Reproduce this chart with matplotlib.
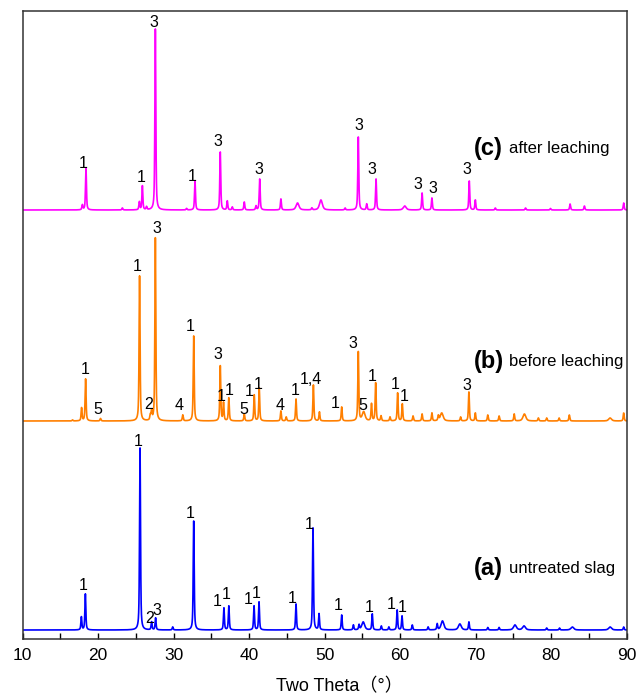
import numpy as np
import matplotlib
matplotlib.use('Agg')
import matplotlib.pyplot as plt
from matplotlib.ticker import MultipleLocator

plt.rcParams['font.family'] = ['Liberation Sans', 'Noto Sans CJK SC', 'DejaVu Sans']

# ---------------- data (2-theta in degrees, intensity in arbitrary units) ----------------
# (a) untreated slag
a_pos = [17.77, 18.3, 25.54, 27.07, 27.6, 29.87, 32.65, 36.65, 37.3, 40.64, 41.3, 46.2,
         48.45, 49.25, 52.25, 53.8, 54.55, 55.1, 56.3, 57.5, 58.5, 59.6, 60.24, 61.6,
         63.7, 64.9, 65.6, 67.9, 69.1, 71.6, 73.1, 75.2, 76.4, 79.4, 81.1, 82.8, 87.8, 89.6]
a_int = [13, 36, 182, 8, 12, 3, 109, 22, 24, 24, 28, 26,
         102, 16, 15, 5, 5, 8, 16, 4, 3, 20, 14, 5,
         3, 6, 9, 6, 8, 2.5, 2.5, 5, 4, 2, 2, 3, 3, 3]
a_broad = [55.1, 65.6, 67.9, 75.2, 76.4, 82.8, 87.8]
a_lab_x = [18.0, 25.3, 26.8, 27.8, 32.15, 35.8, 36.9, 39.8, 40.9, 45.7, 47.9, 51.8, 55.9, 58.8, 60.3]
a_lab_h = [45.7, 190, 13.3, 20.7, 117.7, 30, 36.7, 31.7, 37.7, 33.3, 106.7, 26, 24, 27.3, 24]
a_lab_t = ['1', '1', '2', '3', '1', '1', '1', '1', '1', '1', '1', '1', '1', '1', '1']

# (b) before leaching
b_pos = [16.6, 17.8, 18.33, 20.3, 25.48, 26.9, 27.07, 27.57, 31.2, 32.65, 36.17, 36.6,
         37.3, 39.35, 40.67, 41.33, 44.2, 44.9, 46.2, 48.5, 49.3, 52.25, 54.45, 55.16,
         56.2, 56.75, 57.46, 58.65, 59.66, 60.28, 61.7, 62.9, 64.2, 65.05, 65.5, 68.0,
         69.1, 69.95, 71.6, 73.1, 75.1, 76.45, 78.3, 79.4, 81.05, 82.4, 87.8, 89.6]
b_int = [1, 13, 42, 2.5, 145, 5, 9, 183, 6, 85, 55, 18,
         23, 7, 26, 33, 10, 4, 22, 36, 9, 14, 69, 9,
         17, 38, 5, 4, 28, 17, 5, 7, 8, 5, 8, 4,
         29, 8, 6, 5, 7, 7, 3, 3, 3, 6, 3, 8]
b_broad = [55.16, 65.5, 76.45, 87.8]
b_lab_x = [18.3, 19.9, 25.1, 26.7, 27.8, 30.7, 32.15, 35.8, 36.35, 37.35, 39.35, 39.97,
           41.25, 44.13, 46.1, 48.2, 51.4, 53.8, 55.1, 56.3, 59.4, 60.5, 68.85]
b_lab_h = [52.7, 13.3, 156, 17.7, 193.7, 16.7, 96, 67.7, 26, 32, 12.7, 31,
           37.7, 17, 31.7, 42.7, 18.7, 78.7, 16.7, 46, 37.7, 26, 36.7]
b_lab_t = ['1', '5', '1', '2', '3', '4', '1', '3', '1', '1', '5', '1',
           '1', '4', '1', '1,4', '1', '3', '5', '1', '1', '1', '3']

# (c) after leaching
c_pos = [17.9, 18.38, 23.2, 25.45, 25.85, 26.4, 27.57, 31.7, 32.82, 36.17, 37.1, 37.76,
         39.35, 40.9, 41.39, 44.2, 46.4, 48.3, 49.5, 52.7, 54.45, 55.56, 56.8, 60.6,
         62.9, 64.2, 69.15, 69.95, 72.6, 76.6, 79.9, 82.5, 84.4, 89.6]
c_int = [5, 42, 2, 8, 24, 3, 181, 1.5, 29, 58, 9, 3,
         8, 4, 31, 11, 7, 2, 10, 2, 73, 6, 31, 4,
         17, 12, 29, 10, 2, 2, 1.5, 6, 4, 7]
c_broad = [46.4, 49.5, 60.6]
c_lab_x = [17.95, 25.67, 27.4, 32.5, 35.8, 41.25, 54.55, 56.3, 62.3, 64.3, 68.8]
c_lab_h = [48.3, 34.3, 189.3, 35, 70, 41.7, 86, 42.3, 27.3, 22.7, 41.7]
c_lab_t = ['1', '1', '3', '1', '3', '3', '3', '3', '3', '3', '3']

x_ticks = [10, 20, 30, 40, 50, 60, 70, 80, 90]
x_label = 'Two Theta（°）'

series = [
    dict(pos=a_pos, inten=a_int, broad=a_broad, lx=a_lab_x, lh=a_lab_h, lt=a_lab_t,
         offset=9, color='#0000FF', tag='(a)', name='untreated slag', tag_y=61),
    dict(pos=b_pos, inten=b_int, broad=b_broad, lx=b_lab_x, lh=b_lab_h, lt=b_lab_t,
         offset=218, color='#FF7F00', tag='(b)', name='before leaching', tag_y=59.3),
    dict(pos=c_pos, inten=c_int, broad=c_broad, lx=c_lab_x, lh=c_lab_h, lt=c_lab_t,
         offset=429, color='#FF00FF', tag='(c)', name='after leaching', tag_y=61.7),
]


def profile(x, pos, inten, broad, fwhm=0.15, fwhm_broad=0.45, eta=0.6):
    y = np.zeros_like(x)
    for p, h in zip(pos, inten):
        w = fwhm_broad if p in broad else fwhm
        d = (x - p) / w
        g = np.exp(-4 * np.log(2) * d ** 2)
        lo = 1.0 / (1.0 + 4 * d ** 2)
        y += h * (eta * lo + (1 - eta) * g)
    return y


fig = plt.figure(figsize=(6.43, 6.98), dpi=100)
ax = fig.add_axes([22.7 / 643, 59 / 698, 604 / 643, 628.3 / 698])

x = np.linspace(10, 90, 8001)
for s in series:
    y = profile(x, s['pos'], s['inten'], s['broad'])
    ax.plot(x, y + s['offset'], color=s['color'], lw=1.2)
    for lx, lh, lt in zip(s['lx'], s['lh'], s['lt']):
        ax.text(lx, s['offset'] + lh, lt, ha='center', va='center_baseline',
                fontsize=11.5, color='black')
    ax.text(69.8, s['offset'] + s['tag_y'], s['tag'], ha='left', va='center',
            fontsize=17, fontweight='bold', color='black')
    ax.text(74.4, s['offset'] + s['tag_y'], s['name'], ha='left', va='center',
            fontsize=12, color='black')

ax.set_xlim(10, 90)
ax.set_ylim(0, 628.3)
ax.set_xticks(x_ticks)
ax.xaxis.set_minor_locator(MultipleLocator(5))
ax.tick_params(axis='x', which='both', direction='in', length=4.5, width=1.0,
               labelsize=12.5, pad=6.8, top=False)
ax.set_yticks([])
for sp in ax.spines.values():
    sp.set_linewidth(1.1)
    sp.set_color('#333333')

ax.set_xlabel(x_label, fontsize=13)
ax.xaxis.set_label_coords(0.525, -0.0764)
ax.xaxis.label.set_verticalalignment('center')

fig.savefig('out.png', dpi=100)
